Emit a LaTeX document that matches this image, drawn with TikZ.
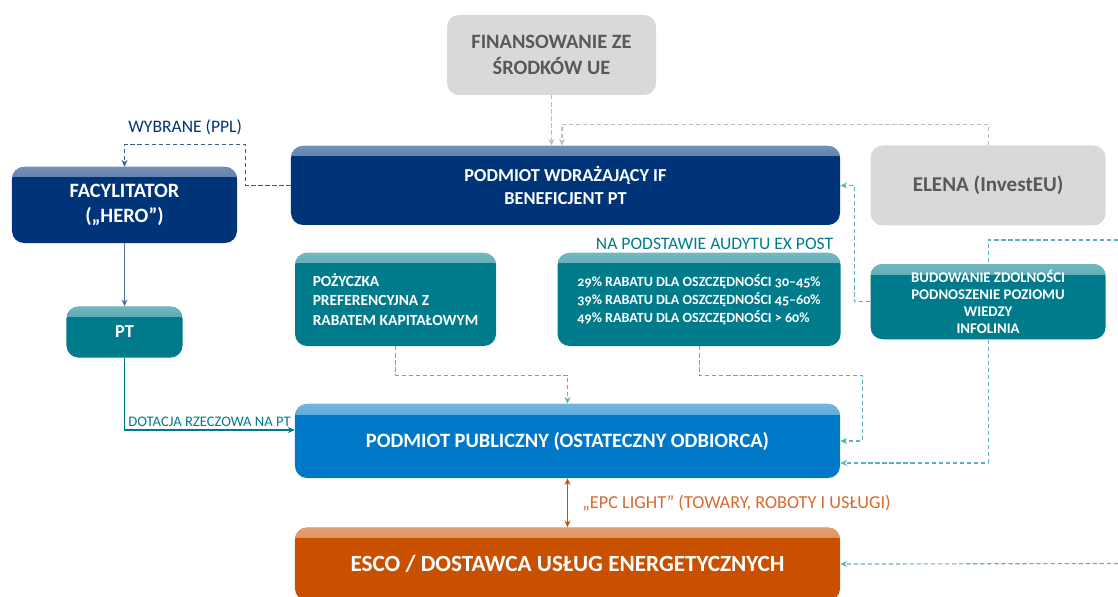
\documentclass[tikz,border=0pt]{standalone}
\usepackage{fontspec}
\setmainfont{Carlito}
\newfontfamily\oldnum[Numbers=OldStyle]{Carlito}
\usetikzlibrary{positioning,arrows.meta,calc}

\definecolor{ifnavy}{RGB}{0,52,120}
\definecolor{petrol}{RGB}{0,123,140}
\definecolor{skyblue}{RGB}{0,120,200}
\definecolor{rust}{RGB}{200,80,0}
\definecolor{rustlbl}{RGB}{215,105,45}
\definecolor{greyfill}{RGB}{217,217,217}
\definecolor{greytxt}{RGB}{89,89,89}
\definecolor{greyline}{RGB}{190,190,190}
\definecolor{petrolline}{RGB}{95,175,190}

\begin{document}
\begin{tikzpicture}[
  x=0.25mm, y=-0.25mm,
  font=\bfseries\fontsize{13}{16}\selectfont,
  >={Stealth[length=1.7mm, width=1.5mm]},
  box/.style={rounded corners=3mm, align=center, text=white, inner sep=4pt,
              fill=#1, path picture={\shade[sharp corners, top color=#1!55!white, bottom color=#1]
                (path picture bounding box.north west) rectangle
                ([yshift=-2.5mm]path picture bounding box.north east);}},
  box/.default=ifnavy,
  greybox/.style={rounded corners=3mm, align=center, fill=greyfill, text=greytxt, inner sep=4pt},
  small/.style={font=\bfseries\fontsize{11}{14}\selectfont},
  lbl/.style={font=\fontsize{12.5}{14}\selectfont, inner sep=1pt},
  arr/.style={->, line width=0.8pt},
  garr/.style={arr, densely dashed, greyline},
  tarr/.style={arr, densely dashed, petrolline},
]
\useasboundingbox (0,0) rectangle (1118,597);

%% ---------- top row ----------
\node[greybox, minimum width=52.25mm, minimum height=20mm, font=\bfseries\fontsize{14.5}{18}\selectfont]
  (fin) at (551.5,55) {FINANSOWANIE ZE\\ ŚRODKÓW UE};

\node[box=ifnavy, minimum width=137.25mm, minimum height=19.75mm] (pwif) at (565.5,185.5)
  {PODMIOT WDRAŻAJĄCY IF\\ BENEFICJENT PT};

\node[greybox, right=7.5mm of pwif, minimum width=58.75mm, minimum height=20mm,
      font=\bfseries\fontsize{15}{17}\selectfont] (elena) {ELENA (InvestEU)};

\node[box=ifnavy, minimum width=56.25mm, minimum height=19mm, font=\bfseries\fontsize{14.5}{18}\selectfont]
  (fac) at (124.5,205) {FACYLITATOR\\ („HERO”)};

\node[box=petrol, below=15.75mm of fac, minimum width=29mm, minimum height=12.75mm,
      font=\bfseries\fontsize{13}{15}\selectfont] (pt) {PT};

%% ---------- instruments ----------
\node[box=petrol, small, align=left, minimum width=50.25mm, minimum height=23.25mm]
  (loan) at (395.5,299.5) {POŻYCZKA\\ PREFERENCYJNA Z\\ RABATEM KAPITAŁOWYM};

\node[box=petrol, right=15.25mm of loan, align=left, minimum width=70.75mm, minimum height=23.25mm,
      font=\bfseries\oldnum\fontsize{10}{12.8}\selectfont,
      label={[lbl, petrol, anchor=south east, xshift=-1.5mm, yshift=0.4mm]north east:NA PODSTAWIE AUDYTU EX POST}]
  (rabat) {29\% RABATU DLA OSZCZĘDNOŚCI 30–45\%\\
           39\% RABATU DLA OSZCZĘDNOŚCI 45–60\%\\
           49\% RABATU DLA OSZCZĘDNOŚCI > 60\%};

\node[box=petrol, below=9.5mm of elena, minimum width=58.75mm, minimum height=18mm,
      font=\bfseries\fontsize{10.5}{12.2}\selectfont]
  (bud) {BUDOWANIE ZDOLNOŚCI\\ PODNOSZENIE POZIOMU\\ WIEDZY\\ INFOLINIA};

%% ---------- recipients ----------
\node[box=skyblue, minimum width=136.25mm, minimum height=18.5mm, font=\bfseries\fontsize{14.5}{16}\selectfont]
  (pp) at (567.5,441) {PODMIOT PUBLICZNY (OSTATECZNY ODBIORCA)};

\node[box=rust, below=12.25mm of pp, minimum width=136.25mm, minimum height=18.25mm,
      font=\bfseries\fontsize{16.5}{19}\selectfont] (esco) {ESCO / DOSTAWCA USŁUG ENERGETYCZNYCH};

%% ---------- funding arrows ----------
\draw[garr] (fin.south) -- (fin.south |- pwif.north);
\draw[garr] (elena.north) -- ++(0,-21) -| ($(pwif.north)+(-3.5,0)$);

\draw[arr, densely dashed, ifnavy!80] (pwif.west) -- ++(-45,0)
  |- node[pos=0.75, above=2mm, lbl, ifnavy] {WYBRANE (PPL)} ($(fac.north)+(0,-22)$) -- (fac.north);
\draw[arr, ifnavy!70] (fac.south) -- (pt.north);
\draw[arr, petrol] (pt.south) |- node[pos=0.75, above=0.3mm, lbl, font=\fontsize{10.4}{12}\selectfont] {DOTACJA RZECZOWA NA PT}
  ($(pp.west)+(0,-11)$);

%% ---------- instrument arrows ----------
\draw[tarr] (loan.south) -- ++(0,29) -| (pp.north);
\draw[tarr] (rabat.south) -- ++(0,29) -| ($(pp.east)+(22,0)$) -- (pp.east);
\draw[tarr] (bud.west) -- ++(-16,0) |- (pwif.east);

%% lines coming in from the right edge
\coordinate (inA) at (1118,240);
\coordinate (inB) at (1118,563.5);
\draw[densely dashed, line width=0.8pt, petrolline] (inA) -| (bud.north);
\draw[tarr] (bud.south) |- ($(pp.east)+(0,22)$);
\draw[tarr] (inB) -- (esco.east);

%% contract between recipient and ESCO
\draw[<->, line width=0.8pt, rust] (pp.south) -- (esco.north)
  node[midway, right=3.2mm, lbl, rustlbl, font=\fontsize{13}{15}\selectfont] {„EPC LIGHT” (TOWARY, ROBOTY I USŁUGI)};

\end{tikzpicture}
\end{document}
